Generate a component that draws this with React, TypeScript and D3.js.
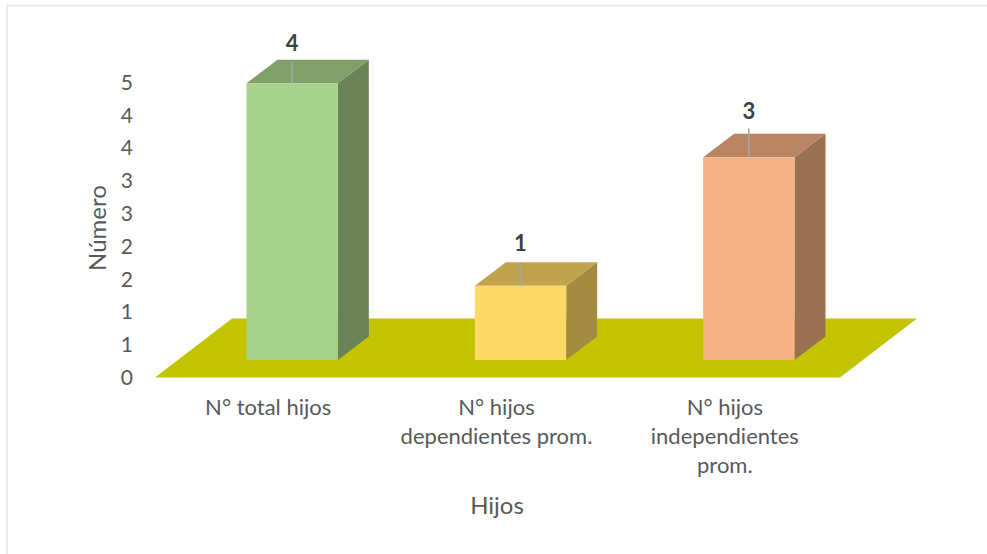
import * as d3 from "d3";

const categories = ["N° total hijos", "N° hijos dependientes prom.", "N° hijos independientes prom."];
const categoryLines = [["N° total hijos"], ["N° hijos", "dependientes prom."], ["N° hijos", "independientes", "prom."]];
const values = [4.22, 1.13, 3.09];
const tickValues = [0, 0.5, 1, 1.5, 2, 2.5, 3, 3.5, 4, 4.5];
const tickLabels = ["0", "1", "1", "2", "2", "3", "3", "4", "4", "5"];
const frontColors = ["#a9d18e", "#ffd966", "#f4b183"];
const topColors = ["#7f9f6b", "#c1a34d", "#b88463"];
const sideColors = ["#6b8259", "#a38b40", "#9a7052"];

const FONT = "Lato, sans-serif";
const TEXT = "#595959";

const width = 987;
const height = 554;

// floor depth and bar depth, the 3D look
const floorLeft = 155;
const floorRight = 840;
const floorDx = 77;
const floorDy = 59;
const barDx = 31;
const barDy = 23.5;

const y = d3.scaleLinear().domain([0, 4.5]).range([377.5, 82.3]);
const barBase = 360;
const barHeight = d3.scaleLinear().domain([0, 1]).range([0, y(0) - y(1)]);

const x = d3
  .scaleBand<string>()
  .domain(categories)
  .range([178, 863])
  .paddingInner(0.6)
  .paddingOuter(0.3);

// category labels sit left of the bars because of the depth
const labelShift = -24;
// how far the leader line runs above the bar top
const leader = [21, 24, 29];
const labelGap = [32, 34.5, 38];

const poly = d3.line();

export default function App() {
  const floor: [number, number][] = [
    [floorLeft, y(0)],
    [floorRight, y(0)],
    [floorRight + floorDx, y(0) - floorDy],
    [floorLeft + floorDx, y(0) - floorDy],
  ];

  return (
    <svg
      width={width}
      height={height}
      style={{ position: "absolute", left: 0, top: 0, display: "block", background: "#fff" }}
    >
      <rect x={7} y={5.5} width={990} height={570} fill="#fff" stroke="#e4e4e4" strokeWidth={1.5} />

      <path d={poly(floor) || ""} fill="#c3c300" />

      {categories.map((c, i) => {
        const x0 = x(c) || 0;
        const x1 = x0 + x.bandwidth();
        const top = barBase - barHeight(values[i]);
        const cx = (x0 + x1) / 2;
        const side: [number, number][] = [
          [x1, top],
          [x1 + barDx, top - barDy],
          [x1 + barDx, barBase - barDy],
          [x1, barBase],
        ];
        const lid: [number, number][] = [
          [x0, top],
          [x0 + barDx, top - barDy],
          [x1 + barDx, top - barDy],
          [x1, top],
        ];
        return (
          <g key={c}>
            <path d={poly(side) || ""} fill={sideColors[i]} />
            <path d={poly(lid) || ""} fill={topColors[i]} />
            <rect x={x0} y={top} width={x.bandwidth()} height={barBase - top} fill={frontColors[i]} />
            <line x1={cx} x2={cx} y1={top} y2={top - leader[i]} stroke="#a6a6a6" strokeWidth={1.5} />
            <text
              x={cx}
              y={top - barDy - labelGap[i] + 23}
              textAnchor="middle"
              fontFamily={FONT}
              fontSize={22}
              fontWeight={700}
              fill="#404040"
            >
              {d3.format(".0f")(values[i])}
            </text>
            <text textAnchor="middle" fontFamily={FONT} fontSize={22} fill={TEXT}>
              {categoryLines[i].map((line, j) => (
                <tspan key={j} x={cx + labelShift} y={415 + j * 29}>
                  {line}
                </tspan>
              ))}
            </text>
          </g>
        );
      })}

      {tickValues.map((t, i) => (
        <text key={t} x={133} y={y(t) + 7.5} textAnchor="end" fontFamily={FONT} fontSize={21} fill={TEXT}>
          {tickLabels[i]}
        </text>
      ))}

      <text
        transform="translate(106,228) rotate(-90)"
        textAnchor="middle"
        fontFamily={FONT}
        fontSize={24}
        fill={TEXT}
      >
        Número
      </text>
      <text x={497} y={514} textAnchor="middle" fontFamily={FONT} fontSize={24} fill={TEXT}>
        Hijos
      </text>
    </svg>
  );
}
